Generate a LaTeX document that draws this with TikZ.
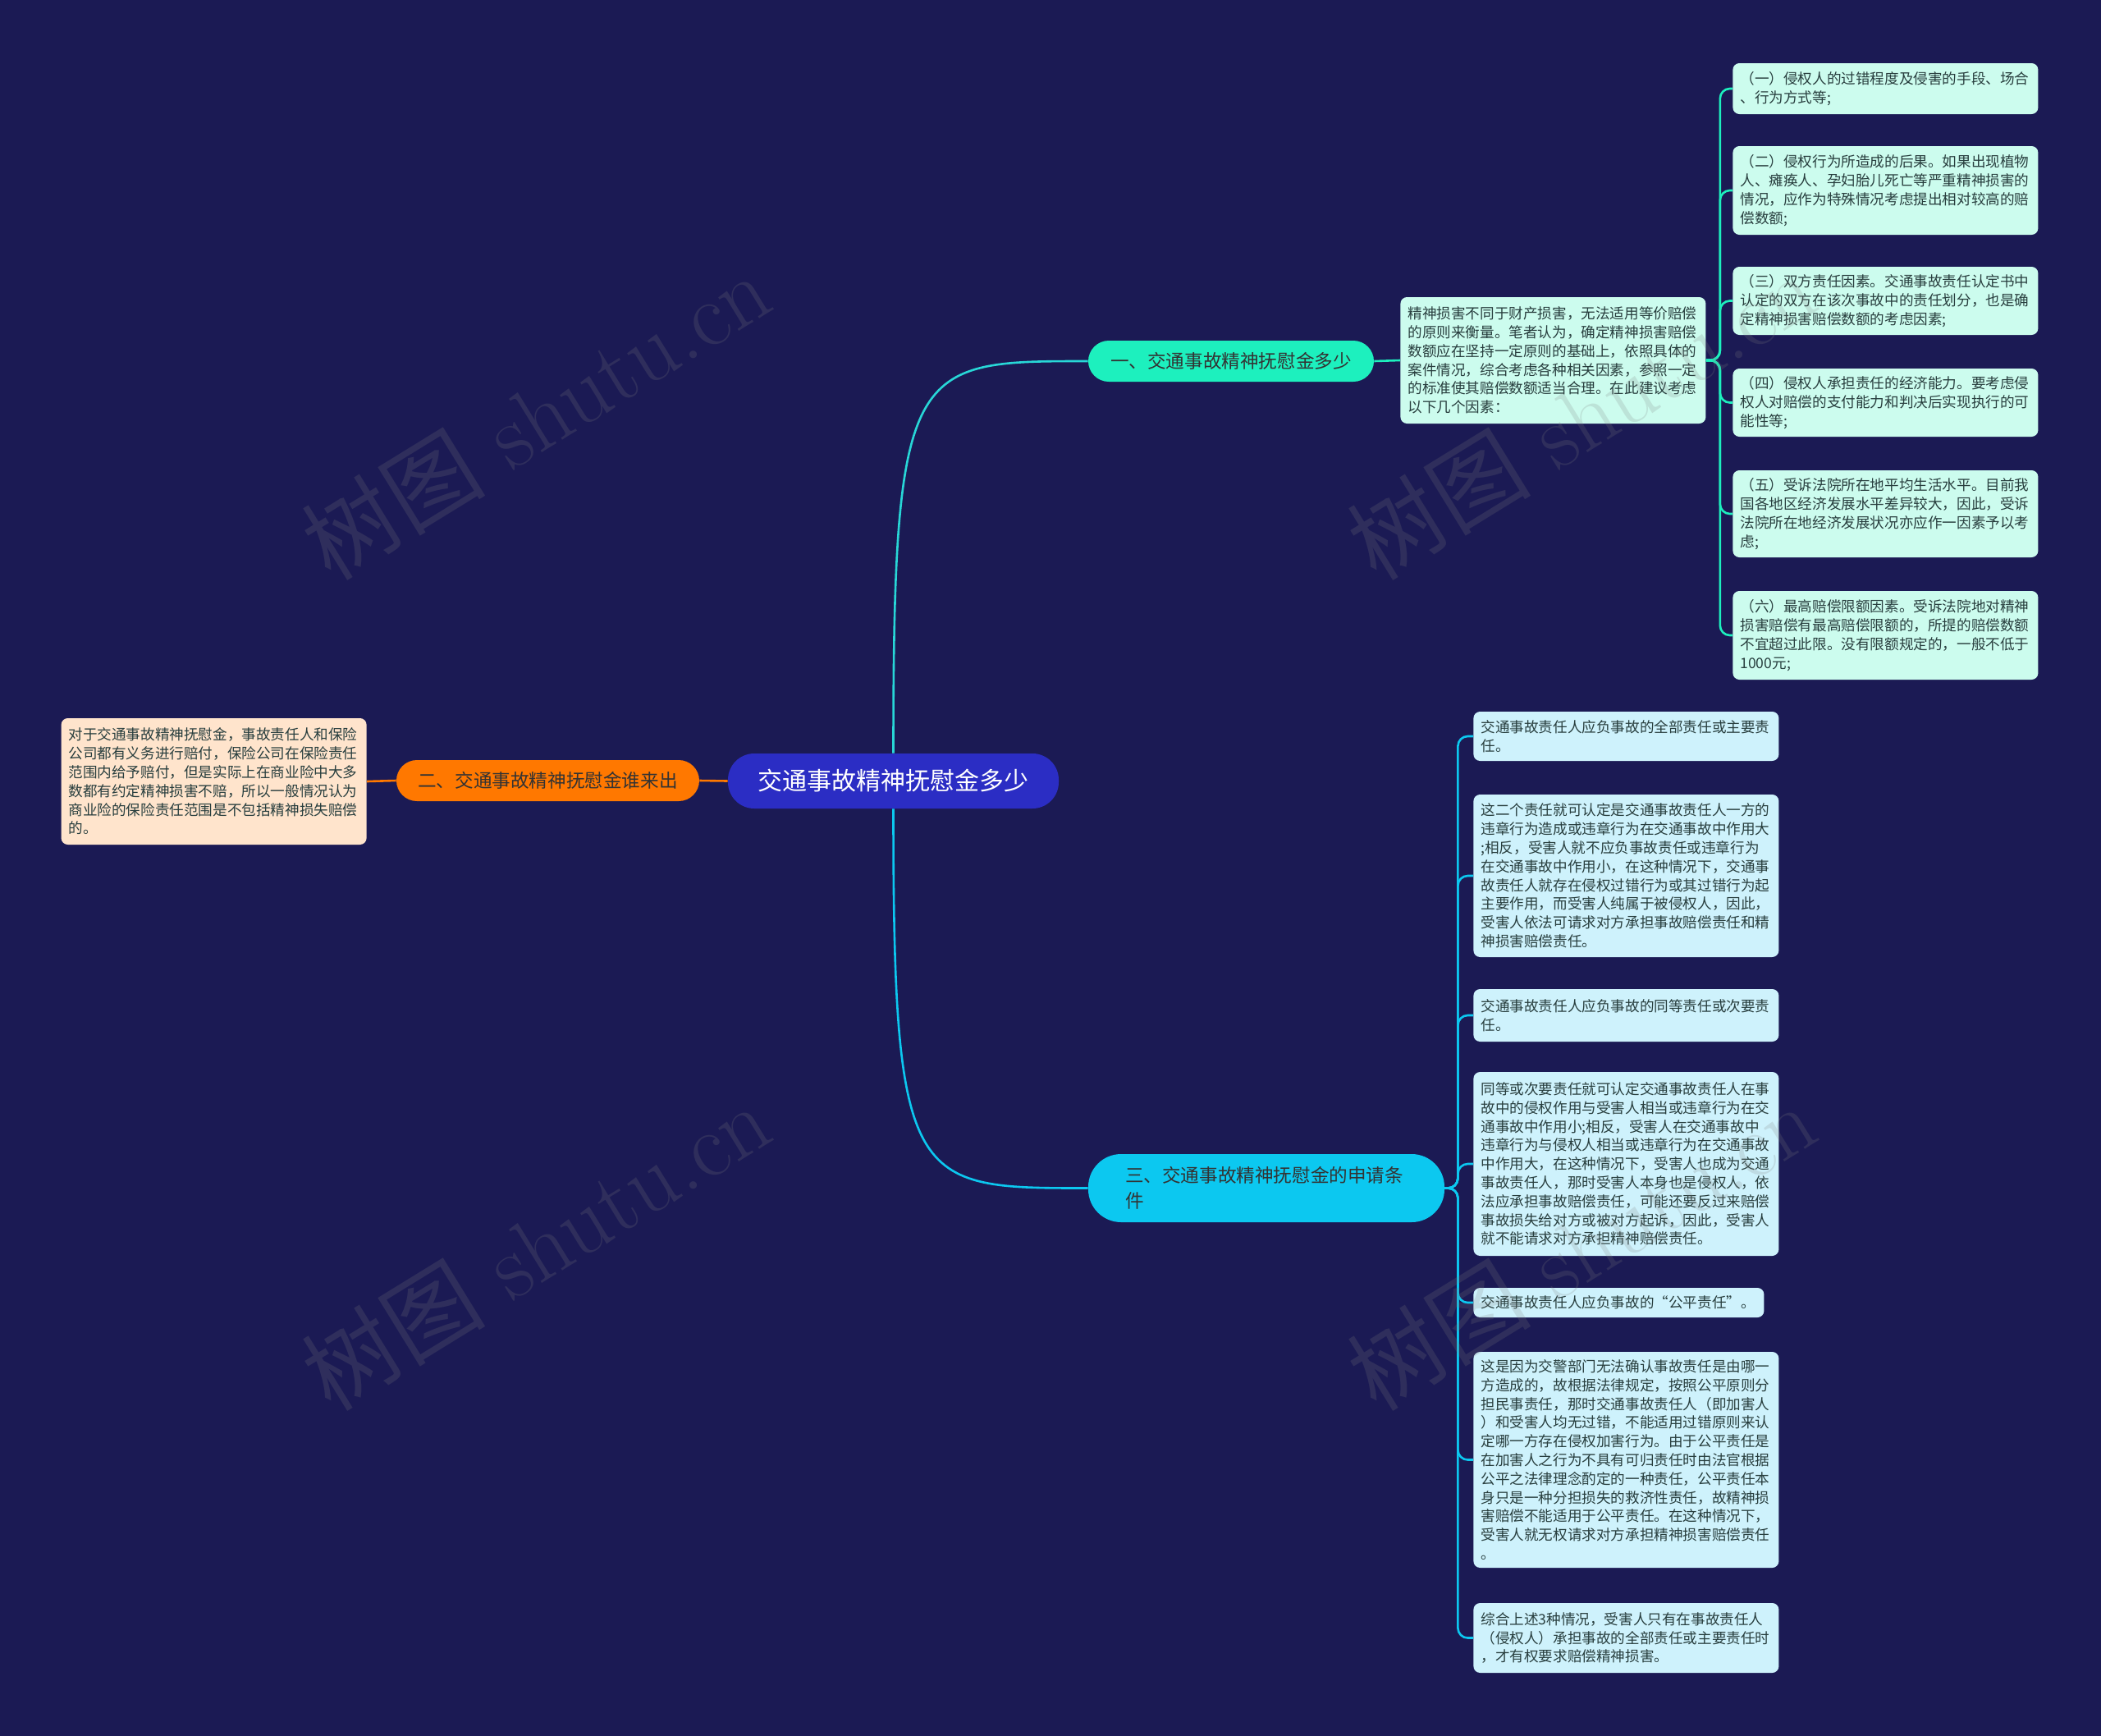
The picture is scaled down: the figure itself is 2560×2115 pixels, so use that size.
\documentclass[tikz,border=0pt]{standalone}
\usepackage{fontspec}
\newfontfamily\cjk{Noto Sans CJK SC}
\definecolor{fondo}{RGB}{27,26,84}
\definecolor{raizazul}{RGB}{43,45,196}
\definecolor{menta}{RGB}{29,240,190}
\definecolor{turquesa}{RGB}{40,215,215}
\definecolor{naranja}{RGB}{255,120,0}
\definecolor{cian}{RGB}{12,200,240}
\definecolor{hojamenta}{RGB}{204,252,238}
\definecolor{hojacian}{RGB}{206,242,252}
\definecolor{hojamelocoton}{RGB}{255,228,204}
\definecolor{textohoja}{RGB}{40,62,62}

\begin{document}
\begin{tikzpicture}[x=0.5pt, y=-0.5pt,
    hoja/.style={rounded corners=4pt, inner xsep=4.5pt, inner ysep=3pt, text width=177pt,
      align=left, anchor=west, text=textohoja, font=\cjk\fontsize{8.8pt}{11.4pt}\selectfont},
    rama/.style={rounded corners=12.5pt, minimum height=25pt, text=black!80,
      font=\cjk\fontsize{11.3pt}{15.5pt}\selectfont},
    enlace/.style={line width=1.3pt},
    marca/.style={rotate=31.6, text=gray, opacity=0.2, font=\fontsize{56pt}{60pt}\selectfont}]

    % 1. Fondo
    \fill[fondo] (0,0) rectangle (2560,2115);

    % 2. Nodo central y ramas principales
    \node[fill=raizazul, rounded corners=16pt, minimum width=201.5pt, minimum height=33.5pt,
      text=white, font=\cjk\fontsize{15pt}{18pt}\selectfont] (raiz) at (1088.5,951.5) {交通事故精神抚慰金多少};
    \node[rama, fill=menta, minimum width=174pt] (rama1) at (1500,440) {一、交通事故精神抚慰金多少};
    \node[rama, fill=naranja, minimum width=184.5pt] (rama2) at (667.5,951) {二、交通事故精神抚慰金谁来出};
    \node[rama, fill=cian, minimum width=217pt, minimum height=41.5pt, rounded corners=20pt,
      text width=172pt, align=left] (rama3) at (1543,1447.5) {三、交通事故精神抚慰金的申请条\\件};

    % 3. Textos de la rama uno
    \node[hoja, fill=hojamenta, minimum height=77pt] (desc1) at (1706,439) {精神损害不同于财产损害，无法适用等价赔偿\\的原则来衡量。笔者认为，确定精神损害赔偿\\数额应在坚持一定原则的基础上，依照具体的\\案件情况，综合考虑各种相关因素，参照一定\\的标准使其赔偿数额适当合理。在此建议考虑\\以下几个因素：};
    \node[hoja, fill=hojamenta, minimum height=31pt] (hoja1) at (2111,108) {（一）侵权人的过错程度及侵害的手段、场合\\、行为方式等;};
    \node[hoja, fill=hojamenta, minimum height=54pt] (hoja2) at (2111,232) {（二）侵权行为所造成的后果。如果出现植物\\人、瘫痪人、孕妇胎儿死亡等严重精神损害的\\情况，应作为特殊情况考虑提出相对较高的赔\\偿数额;};
    \node[hoja, fill=hojamenta, minimum height=41.5pt] (hoja3) at (2111,366.5) {（三）双方责任因素。交通事故责任认定书中\\认定的双方在该次事故中的责任划分，也是确\\定精神损害赔偿数额的考虑因素;};
    \node[hoja, fill=hojamenta, minimum height=41.5pt] (hoja4) at (2111,490.5) {（四）侵权人承担责任的经济能力。要考虑侵\\权人对赔偿的支付能力和判决后实现执行的可\\能性等;};
    \node[hoja, fill=hojamenta, minimum height=53pt] (hoja5) at (2111,626) {（五）受诉法院所在地平均生活水平。目前我\\国各地区经济发展水平差异较大，因此，受诉\\法院所在地经济发展状况亦应作一因素予以考\\虑;};
    \node[hoja, fill=hojamenta, minimum height=54pt] (hoja6) at (2111,774) {（六）最高赔偿限额因素。受诉法院地对精神\\损害赔偿有最高赔偿限额的，所提的赔偿数额\\不宜超过此限。没有限额规定的，一般不低于\\1000元;};

    % 4. Texto de la rama dos
    \node[hoja, fill=hojamelocoton, minimum height=77pt, anchor=east] (desc2) at (447,952) {对于交通事故精神抚慰金，事故责任人和保险\\公司都有义务进行赔付，保险公司在保险责任\\范围内给予赔付，但是实际上在商业险中大多\\数都有约定精神损害不赔，所以一般情况认为\\商业险的保险责任范围是不包括精神损失赔偿\\的。};

    % 5. Textos de la rama tres
    \node[hoja, fill=hojacian, minimum height=30pt] (req1) at (1795,897) {交通事故责任人应负事故的全部责任或主要责\\任。};
    \node[hoja, fill=hojacian, minimum height=99pt] (req2) at (1795,1067) {这二个责任就可认定是交通事故责任人一方的\\违章行为造成或违章行为在交通事故中作用大\\;相反，受害人就不应负事故责任或违章行为\\在交通事故中作用小，在这种情况下，交通事\\故责任人就存在侵权过错行为或其过错行为起\\主要作用，而受害人纯属于被侵权人，因此，\\受害人依法可请求对方承担事故赔偿责任和精\\神损害赔偿责任。};
    \node[hoja, fill=hojacian, minimum height=32pt] (req3) at (1795,1237) {交通事故责任人应负事故的同等责任或次要责\\任。};
    \node[hoja, fill=hojacian, minimum height=112pt] (req4) at (1795,1418) {同等或次要责任就可认定交通事故责任人在事\\故中的侵权作用与受害人相当或违章行为在交\\通事故中作用小;相反，受害人在交通事故中\\违章行为与侵权人相当或违章行为在交通事故\\中作用大，在这种情况下，受害人也成为交通\\事故责任人，那时受害人本身也是侵权人，依\\法应承担事故赔偿责任，可能还要反过来赔偿\\事故损失给对方或被对方起诉，因此，受害人\\就不能请求对方承担精神赔偿责任。};
    \node[hoja, fill=hojacian, minimum height=18pt, text width=168pt] (req5) at (1795,1587) {交通事故责任人应负事故的“公平责任”。};
    \node[hoja, fill=hojacian, minimum height=131.5pt] (req6) at (1795,1778.5) {这是因为交警部门无法确认事故责任是由哪一\\方造成的，故根据法律规定，按照公平原则分\\担民事责任，那时交通事故责任人（即加害人\\）和受害人均无过错，不能适用过错原则来认\\定哪一方存在侵权加害行为。由于公平责任是\\在加害人之行为不具有可归责任时由法官根据\\公平之法律理念酌定的一种责任，公平责任本\\身只是一种分担损失的救济性责任，故精神损\\害赔偿不能适用于公平责任。在这种情况下，\\受害人就无权请求对方承担精神损害赔偿责任\\。};
    \node[hoja, fill=hojacian, minimum height=42.5pt] (req7) at (1795,1995.5) {综合上述3种情况，受害人只有在事故责任人\\（侵权人）承担事故的全部责任或主要责任时\\，才有权要求赔偿精神损害。};

    % 6. Conexiones
    \draw[enlace, turquesa] (raiz.north) .. controls (1088.5,440) and (1110,440) .. (rama1.west);
    \draw[enlace, cian] (raiz.south) .. controls (1088.5,1447.5) and (1110,1447.5) .. (rama3.west);
    \draw[enlace, naranja] (raiz.west) -- (rama2.east);
    \draw[enlace, naranja] (rama2.west) -- (desc2.east);
    \draw[enlace, menta] (rama1.east) -- (desc1.west);
    \foreach \i in {1,...,6}
        \draw[enlace, menta, rounded corners=6pt] (desc1.east) -- ++(17,0) |- (hoja\i.west);
    \foreach \i in {1,...,7}
        \draw[enlace, cian, rounded corners=6pt] (rama3.east) -- ++(16,0) |- (req\i.west);

    % 7. Marcas de agua
    \foreach \mx/\my in {653/506, 1927/506, 653/1518, 1927/1518}
        \node[marca] at (\mx,\my) {{\cjk 树图} shutu.cn};

\end{tikzpicture}
\end{document}
